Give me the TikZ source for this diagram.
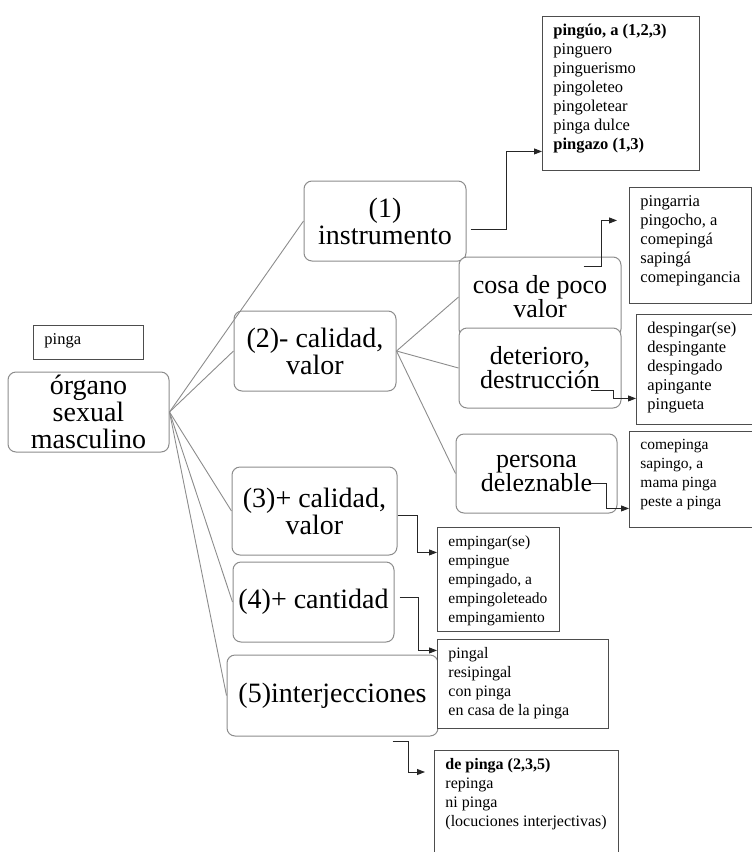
\documentclass[tikz,border=0pt]{standalone}
\usepackage{fontspec}
\setmainfont{Liberation Serif}
\usetikzlibrary{positioning}
\usetikzlibrary{arrows.meta}

\definecolor{gris}{HTML}{8C8C8C}
\definecolor{grisosc}{HTML}{4D4D4D}
\newcommand{\caja}[3]{\parbox[t][#1][t]{#2}{#3}}

\begin{document}
\begin{tikzpicture}[x=1pt,y=-1pt,>={Triangle[length=8pt,width=6pt]},
    cat/.style={draw=gris,line width=1pt,fill=white,rounded corners=8pt,align=center,
                inner sep=0pt,font=\fontsize{28}{27}\selectfont},
    sub/.style={cat,font=\fontsize{26}{24}\selectfont},
    lista/.style={draw=grisosc,line width=0.9pt,fill=white,anchor=north west,
                inner xsep=11pt,inner ysep=8pt,font=\fontsize{#1}{19}\selectfont},
    lista/.default=16.5,
    rama/.style={draw=gris,line width=0.9pt},
    flecha/.style={->,draw=black!85,line width=0.9pt}]

  \useasboundingbox (0,0) rectangle (752,852);
  \clip (0,0) rectangle (752,852);

  % categorias
  \node[lista] (pinga) at (33,325) {\caja{18pt}{88pt}{pinga}};
  \node[cat,minimum width=161pt,minimum height=80pt] (raiz) at (88.5,412) {órgano\\sexual\\masculino};
  \node[cat,minimum width=162pt,minimum height=80pt] (uno) at (385,221) {(1)\\instrumento};
  \node[cat,minimum width=162pt,minimum height=80pt] (dos) at (315,351) {(2)- calidad,\\valor};
  \node[sub,minimum width=162pt,minimum height=80pt] (cosa) at (540,297) {cosa de poco\\valor};
  \node[sub,minimum width=162pt,minimum height=80pt] (deter) at (540,368) {deterioro,\\destrucción};
  \node[sub,minimum width=161pt,minimum height=79pt] (pers) at (536.5,473.5) {persona\\deleznable};
  \node[cat,minimum width=165pt,minimum height=88pt] (tres) at (314.5,511) {(3)+ calidad,\\valor};
  \node[cat,minimum width=161pt,minimum height=80pt] (cuatro) at (313.5,602) {(4)+ cantidad};
  \node[cat,minimum width=211pt,minimum height=81pt] (cinco) at (332.5,695.5) {(5)interjecciones};

  % listas de derivados
  \node[lista] (pinguo) at (542,16) {\caja{138pt}{135pt}{\textbf{pingúo, a (1,2,3)}\\pinguero\\pinguerismo\\pingoleteo\\pingoletear\\pinga dulce\\\textbf{pingazo (1,3)}}};
  \node[lista] (pingarria) at (629,187) {\caja{100pt}{100pt}{pingarria\\pingocho, a\\comepingá\\sapingá\\comepingancia}};
  \node[lista] (despingar) at (636,314) {\caja{94pt}{93.5pt}{despingar(se)\\despingante\\despingado\\apingante\\pingueta}};
  \node[lista=15.5] (comepinga) at (629,431) {\caja{80pt}{100.5pt}{comepinga\\sapingo, a\\mama pinga\\peste a pinga}};
  \node[lista=15.5] (empingar) at (437,527) {\caja{88pt}{100pt}{empingar(se)\\empingue\\empingado, a\\empingoleteado\\empingamiento}};
  \node[lista=16] (pingal) at (437,639) {\caja{73pt}{149pt}{pingal\\resipingal\\con pinga\\en casa de la pinga}};
  \node[lista=16] (depinga) at (434,750) {\caja{120pt}{162pt}{\textbf{de pinga (2,3,5)}\\repinga\\ni pinga\\(locuciones interjectivas)}};

  % ramas
  \draw[rama] (raiz.east) -- (uno.west);
  \draw[rama] (raiz.east) -- (dos.west);
  \draw[rama] (raiz.east) -- (tres.west);
  \draw[rama] (raiz.east) -- (cuatro.west);
  \draw[rama] (raiz.east) -- (cinco.west);
  \draw[rama] (dos.east) -- (cosa.west);
  \draw[rama] (dos.east) -- (deter.west);
  \draw[rama] (dos.east) -- (pers.west);

  % flechas
  \draw[flecha] ([shift={(4,8)}]uno.east) -- ++(36,0) |- ([shift={(0,58)}]pinguo.west);
  \draw[flecha] ([shift={(-38,-31)}]cosa.east) -- ++(18,0) |- ([shift={(-12,-25)}]pingarria.west);
  \draw[flecha] ([shift={(-31,22)}]deter.east) -- ++(23,0) |- ([shift={(0,29)}]despingar.west);
  \draw[flecha] ([shift={(-27,9.5)}]pers.east) -- ++(16,0) |- ([shift={(0,29)}]comepinga.west);
  \draw[flecha] ([shift={(0,4)}]tres.east) -- ++(20,0) |- ([shift={(0,-27)}]empingar.west);
  \draw[flecha] ([shift={(5,-5)}]cuatro.east) -- ++(19,0) |- ([shift={(0,-33.5)}]pingal.west);
  \draw[flecha] ([shift={(-46,5)}]cinco.south east) -- ++(16,0) |- ([shift={(-9,22)}]depinga.north west);

\end{tikzpicture}
\end{document}
